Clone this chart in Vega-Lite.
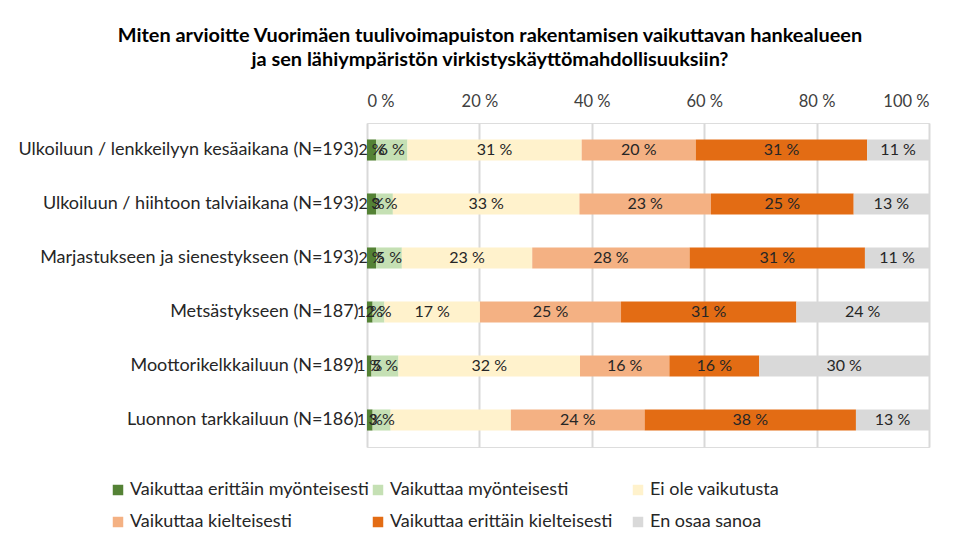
{
  "$schema": "https://vega.github.io/schema/vega-lite/v6.json",
  "width": 562,
  "height": 324,
  "autosize": {"type": "none"},
  "padding": {"left": 367, "top": 123, "right": 34, "bottom": 99},
  "background": "white",
  "title": {
    "text": ["Miten arvioitte Vuorimäen tuulivoimapuiston  rakentamisen  vaikuttavan hankealueen", "ja sen lähiympäristön  virkistyskäyttömahdollisuuksiin?"],
    "font": "Lato",
    "fontSize": 19.9,
    "fontWeight": "bold",
    "color": "#000000",
    "anchor": "middle",
    "frame": "group",
    "dx": -158,
    "offset": 23,
    "lineHeight": 24
  },
  "data": {
    "values": [
      {"cat": "Ulkoiluun / lenkkeilyyn kesäaikana (N=193)", "s": "Vaikuttaa erittäin myönteisesti", "so": 1, "v": 1.6, "label": "2 %"},
      {"cat": "Ulkoiluun / lenkkeilyyn kesäaikana (N=193)", "s": "Vaikuttaa myönteisesti", "so": 2, "v": 5.6, "label": "6 %"},
      {"cat": "Ulkoiluun / lenkkeilyyn kesäaikana (N=193)", "s": "Ei ole vaikutusta", "so": 3, "v": 31.0, "label": "31 %"},
      {"cat": "Ulkoiluun / lenkkeilyyn kesäaikana (N=193)", "s": "Vaikuttaa kielteisesti", "so": 4, "v": 20.3, "label": "20 %"},
      {"cat": "Ulkoiluun / lenkkeilyyn kesäaikana (N=193)", "s": "Vaikuttaa erittäin kielteisesti", "so": 5, "v": 30.5, "label": "31 %"},
      {"cat": "Ulkoiluun / lenkkeilyyn kesäaikana (N=193)", "s": "En osaa sanoa", "so": 6, "v": 11.0, "label": "11 %"},

      {"cat": "Ulkoiluun / hiihtoon talviaikana (N=193)", "s": "Vaikuttaa erittäin myönteisesti", "so": 1, "v": 1.6, "label": "2 %"},
      {"cat": "Ulkoiluun / hiihtoon talviaikana (N=193)", "s": "Vaikuttaa myönteisesti", "so": 2, "v": 3.0, "label": "3 %"},
      {"cat": "Ulkoiluun / hiihtoon talviaikana (N=193)", "s": "Ei ole vaikutusta", "so": 3, "v": 33.2, "label": "33 %"},
      {"cat": "Ulkoiluun / hiihtoon talviaikana (N=193)", "s": "Vaikuttaa kielteisesti", "so": 4, "v": 23.4, "label": "23 %"},
      {"cat": "Ulkoiluun / hiihtoon talviaikana (N=193)", "s": "Vaikuttaa erittäin kielteisesti", "so": 5, "v": 25.4, "label": "25 %"},
      {"cat": "Ulkoiluun / hiihtoon talviaikana (N=193)", "s": "En osaa sanoa", "so": 6, "v": 13.4, "label": "13 %"},

      {"cat": "Marjastukseen ja sienestykseen (N=193)", "s": "Vaikuttaa erittäin myönteisesti", "so": 1, "v": 1.6, "label": "2 %"},
      {"cat": "Marjastukseen ja sienestykseen (N=193)", "s": "Vaikuttaa myönteisesti", "so": 2, "v": 4.6, "label": "5 %"},
      {"cat": "Marjastukseen ja sienestykseen (N=193)", "s": "Ei ole vaikutusta", "so": 3, "v": 23.2, "label": "23 %"},
      {"cat": "Marjastukseen ja sienestykseen (N=193)", "s": "Vaikuttaa kielteisesti", "so": 4, "v": 28.0, "label": "28 %"},
      {"cat": "Marjastukseen ja sienestykseen (N=193)", "s": "Vaikuttaa erittäin kielteisesti", "so": 5, "v": 31.2, "label": "31 %"},
      {"cat": "Marjastukseen ja sienestykseen (N=193)", "s": "En osaa sanoa", "so": 6, "v": 11.4, "label": "11 %"},

      {"cat": "Metsästykseen (N=187)", "s": "Vaikuttaa erittäin myönteisesti", "so": 1, "v": 1.0, "label": "1 %"},
      {"cat": "Metsästykseen (N=187)", "s": "Vaikuttaa myönteisesti", "so": 2, "v": 2.1, "label": "2 %"},
      {"cat": "Metsästykseen (N=187)", "s": "Ei ole vaikutusta", "so": 3, "v": 17.0, "label": "17 %"},
      {"cat": "Metsästykseen (N=187)", "s": "Vaikuttaa kielteisesti", "so": 4, "v": 25.1, "label": "25 %"},
      {"cat": "Metsästykseen (N=187)", "s": "Vaikuttaa erittäin kielteisesti", "so": 5, "v": 31.2, "label": "31 %"},
      {"cat": "Metsästykseen (N=187)", "s": "En osaa sanoa", "so": 6, "v": 23.6, "label": "24 %"},

      {"cat": "Moottorikelkkailuun (N=189)", "s": "Vaikuttaa erittäin myönteisesti", "so": 1, "v": 0.8, "label": "1 %"},
      {"cat": "Moottorikelkkailuun (N=189)", "s": "Vaikuttaa myönteisesti", "so": 2, "v": 4.8, "label": "5 %"},
      {"cat": "Moottorikelkkailuun (N=189)", "s": "Ei ole vaikutusta", "so": 3, "v": 32.3, "label": "32 %"},
      {"cat": "Moottorikelkkailuun (N=189)", "s": "Vaikuttaa kielteisesti", "so": 4, "v": 15.9, "label": "16 %"},
      {"cat": "Moottorikelkkailuun (N=189)", "s": "Vaikuttaa erittäin kielteisesti", "so": 5, "v": 16.0, "label": "16 %"},
      {"cat": "Moottorikelkkailuun (N=189)", "s": "En osaa sanoa", "so": 6, "v": 30.2, "label": "30 %"},

      {"cat": "Luonnon tarkkailuun (N=186)", "s": "Vaikuttaa erittäin myönteisesti", "so": 1, "v": 1.0, "label": "1 %"},
      {"cat": "Luonnon tarkkailuun (N=186)", "s": "Vaikuttaa myönteisesti", "so": 2, "v": 3.2, "label": "3 %"},
      {"cat": "Luonnon tarkkailuun (N=186)", "s": "Ei ole vaikutusta", "so": 3, "v": 21.4, "label": ""},
      {"cat": "Luonnon tarkkailuun (N=186)", "s": "Vaikuttaa kielteisesti", "so": 4, "v": 23.8, "label": "24 %"},
      {"cat": "Luonnon tarkkailuun (N=186)", "s": "Vaikuttaa erittäin kielteisesti", "so": 5, "v": 37.6, "label": "38 %"},
      {"cat": "Luonnon tarkkailuun (N=186)", "s": "En osaa sanoa", "so": 6, "v": 13.0, "label": "13 %"}
    ]
  },
  "encoding": {
    "y": {
      "field": "cat",
      "type": "nominal",
      "sort": ["Ulkoiluun / lenkkeilyyn kesäaikana (N=193)", "Ulkoiluun / hiihtoon talviaikana (N=193)", "Marjastukseen ja sienestykseen (N=193)", "Metsästykseen (N=187)", "Moottorikelkkailuun (N=189)", "Luonnon tarkkailuun (N=186)"],
      "scale": {"paddingInner": 0.61, "paddingOuter": 0.305},
      "axis": {
        "title": null,
        "domain": false,
        "ticks": false,
        "labelFont": "Lato",
        "labelFontSize": 18,
        "labelColor": "#262626",
        "labelPadding": 9,
        "labelLimit": 400
      }
    },
    "x": {
      "field": "v",
      "type": "quantitative",
      "stack": "normalize",
      "scale": {"domain": [0, 1], "nice": false},
      "axis": {
        "orient": "top",
        "title": null,
        "domain": false,
        "ticks": false,
        "values": [0, 0.2, 0.4, 0.6, 0.8, 1],
        "labelExpr": "format(datum.value * 100, '.0f') + ' %'",
        "labelFont": "Lato",
        "labelFontSize": 16.5,
        "labelColor": "#404040",
        "labelPadding": 14,
        "grid": true,
        "gridColor": "#D9D9D9",
        "gridWidth": 2
      }
    },
    "order": {"field": "so", "type": "quantitative"}
  },
  "layer": [
    {
      "mark": {"type": "bar"},
      "encoding": {
        "color": {
          "field": "s",
          "type": "nominal",
          "sort": ["Vaikuttaa erittäin myönteisesti", "Vaikuttaa myönteisesti", "Ei ole vaikutusta", "Vaikuttaa kielteisesti", "Vaikuttaa erittäin kielteisesti", "En osaa sanoa"],
          "scale": {
            "domain": ["Vaikuttaa erittäin myönteisesti", "Vaikuttaa myönteisesti", "Ei ole vaikutusta", "Vaikuttaa kielteisesti", "Vaikuttaa erittäin kielteisesti", "En osaa sanoa"],
            "range": ["#548235", "#C5E0B4", "#FFF2CC", "#F4B183", "#E36C14", "#D9D9D9"]
          },
          "legend": {
            "title": null,
            "orient": "none",
            "legendX": -258,
            "legendY": 358,
            "direction": "horizontal",
            "columns": 3,
            "gridAlign": "all",
            "symbolType": "square",
            "symbolSize": 110,
            "symbolStrokeWidth": 0,
            "labelFont": "Lato",
            "labelFontSize": 18,
            "labelColor": "#262626",
            "labelLimit": 300,
            "labelOffset": 3,
            "columnPadding": -12,
            "rowPadding": 14
          }
        }
      }
    },
    {
      "mark": {"type": "text", "font": "Lato", "fontSize": 16, "color": "#262626"},
      "encoding": {
        "x": {"field": "v", "type": "quantitative", "stack": "normalize", "bandPosition": 0.5},
        "text": {"field": "label", "type": "nominal"}
      }
    }
  ]
}
